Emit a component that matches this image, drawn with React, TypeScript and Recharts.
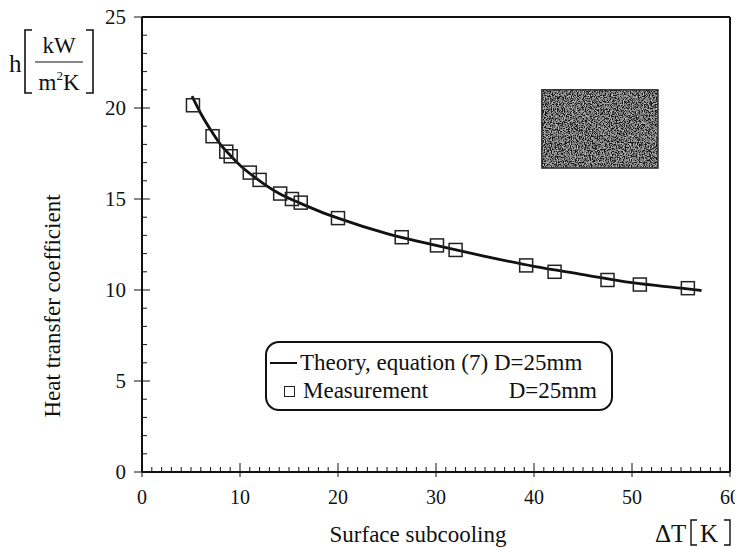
import {
  ComposedChart,
  Line,
  ReferenceArea,
  ReferenceLine,
  Scatter,
  XAxis,
  YAxis,
} from "recharts";

// measured points, D=25mm
const measuredDT = [5.2, 7.2, 8.6, 9.05, 11.0, 12.0, 14.1, 15.3, 16.2, 20.0, 26.5, 30.1, 32.0, 39.2, 42.1, 47.5, 50.8, 55.7];
const measuredH = [20.15, 18.45, 17.6, 17.35, 16.45, 16.05, 15.3, 15.0, 14.8, 13.95, 12.9, 12.45, 12.2, 11.35, 11.0, 10.55, 10.3, 10.1];

// theory curve, equation (7)
const theoryDT = [5.1, 6, 7, 8, 9, 10, 12, 14, 16, 18, 20, 25, 30, 35, 40, 45, 50, 55, 57.1];
const theoryH = [20.65, 19.7, 18.8, 18.0, 17.4, 16.85, 16.0, 15.3, 14.8, 14.35, 13.95, 13.1, 12.45, 11.85, 11.3, 10.85, 10.4, 10.1, 9.97];

const xTicks = Array.from({ length: 61 }, (_, i) => i);
const yTicks = Array.from({ length: 26 }, (_, i) => i);

const measured = measuredDT.map((dt, i) => ({ dt, h: measuredH[i] }));
const theory = theoryDT.map((dt, i) => ({ dt, h: theoryH[i] }));

const serif = "Liberation Serif";
const ink = "#111";

function XTick({ x, y, payload }: any) {
  const major = payload.value % 10 === 0;
  return (
    <g>
      <line x1={x} x2={x} y1={major ? y - 9 : y - 5} y2={major ? y + 5 : y} stroke={ink} strokeWidth={1} />
      {major && (
        <text x={x} y={y + 32} textAnchor="middle" fontFamily={serif} fontSize={20} fill={ink}>
          {payload.value}
        </text>
      )}
    </g>
  );
}

function YTick({ x, y, payload }: any) {
  const major = payload.value % 5 === 0;
  return (
    <g>
      <line x1={major ? x - 8 : x} x2={major ? x + 8 : x + 5} y1={y} y2={y} stroke={ink} strokeWidth={1} />
      {major && (
        <text x={x - 16} y={y + 7} textAnchor="end" fontFamily={serif} fontSize={21} fill={ink}>
          {payload.value}
        </text>
      )}
    </g>
  );
}

function SquareDot({ cx, cy }: any) {
  return <rect x={cx - 6.5} y={cy - 6.5} width={13} height={13} fill="none" stroke="#222" strokeWidth={1.5} />;
}

function GrainBox(props: any) {
  const { x, y, width, height } = props;
  return (
    <g>
      <rect x={x} y={y} width={width} height={height} fill="#5a5a5a" />
      <rect x={x} y={y} width={width} height={height} filter="url(#grain)" opacity={0.75} />
      <rect x={x} y={y} width={width} height={height} fill="none" stroke="#333" strokeWidth={1.5} />
    </g>
  );
}

function LegendBox() {
  return (
    <div
      style={{
        position: "absolute",
        left: 257,
        top: 333,
        width: 348,
        height: 70,
        border: "2px solid #111",
        borderRadius: 14,
        fontFamily: serif,
        fontSize: 23,
        color: ink,
        background: "#fff",
        boxSizing: "border-box",
        padding: "6px 14px 0 3px",
        lineHeight: "28px",
      }}
    >
      <div style={{ display: "flex", alignItems: "center" }}>
        <span style={{ display: "inline-block", width: 27, borderTop: "2.5px solid #111", marginRight: 3 }} />
        <span style={{ whiteSpace: "nowrap" }}>Theory, equation (7) D=25mm</span>
      </div>
      <div style={{ display: "flex", alignItems: "center" }}>
        <span
          style={{ display: "inline-block", width: 9, height: 9, border: "1.5px solid #222", marginLeft: 14, marginRight: 8 }}
        />
        <span style={{ flex: 1 }}>Measurement</span>
        <span>D=25mm</span>
      </div>
    </div>
  );
}

export default function App() {
  return (
    <div style={{ position: "relative", width: 735, height: 540 }}>
      <div style={{ position: "absolute", left: 0, top: -8 }}>
        <ComposedChart width={735} height={548} margin={{ top: 17, right: 13, bottom: 46, left: 74 }}>
          <defs>
            <filter id="grain" x="0" y="0" width="100%" height="100%">
              <feTurbulence type="fractalNoise" baseFrequency="0.85" numOctaves={2} seed={4} />
              <feColorMatrix
                type="matrix"
                values="2.4 0 0 0 -1.0  2.4 0 0 0 -1.0  2.4 0 0 0 -1.0  0 0 0 0 1"
              />
              <feComposite in2="SourceGraphic" operator="in" />
            </filter>
          </defs>
          <XAxis
            dataKey="dt"
            type="number"
            domain={[0, 60]}
            ticks={xTicks}
            interval={0}
            height={30}
            axisLine={{ stroke: ink, strokeWidth: 2 }}
            tickLine={false}
            tickSize={0}
            tickMargin={0}
            tick={<XTick />}
            allowDataOverflow
          />
          <YAxis
            dataKey="h"
            type="number"
            domain={[0, 25]}
            ticks={yTicks}
            interval={0}
            width={60}
            axisLine={{ stroke: ink, strokeWidth: 2 }}
            tickLine={false}
            tickSize={0}
            tickMargin={0}
            tick={<YTick />}
            allowDataOverflow
          />
          <ReferenceLine y={25} stroke={ink} strokeWidth={2} />
          <ReferenceLine x={60} stroke={ink} strokeWidth={2} />
          <ReferenceArea x1={40.8} x2={52.65} y1={16.7} y2={21} shape={<GrainBox />} />
          <Line
            data={theory}
            dataKey="h"
            type="monotone"
            stroke="#111"
            strokeWidth={2.8}
            dot={false}
            isAnimationActive={false}
          />
          <Scatter data={measured} dataKey="h" shape={<SquareDot />} isAnimationActive={false} />
        </ComposedChart>
      </div>
      <LegendBox />
      <svg
        width={735}
        height={540}
        style={{ position: "absolute", left: 0, top: 0, pointerEvents: "none" }}
        fontFamily={serif}
        fill={ink}
      >
        <text x={44} y={298} fontSize={23} textAnchor="middle" transform="rotate(-90 44 298)" dominantBaseline="central">
          Heat transfer coefficient
        </text>
        <text x={1} y={64} fontSize={25}>h</text>
        <path d="M24 22 L17 22 L17 85 L24 85" fill="none" stroke={ink} strokeWidth={1.6} />
        <text x={51} y={45} fontSize={23} textAnchor="middle">kW</text>
        <line x1={27} x2={75} y1={54} y2={54} stroke={ink} strokeWidth={1.2} />
        <text x={51} y={82} fontSize={23} textAnchor="middle">
          m<tspan fontSize={13} dy={-10}>2</tspan>
          <tspan dy={10}>K</tspan>
        </text>
        <path d="M78 22 L85 22 L85 85 L78 85" fill="none" stroke={ink} strokeWidth={1.6} />
        <text x={410} y={534} fontSize={23} textAnchor="middle">Surface subcooling</text>
        <text x={647} y={534} fontSize={25}>ΔT</text>
        <path d="M689 512 L683 512 L683 537 L689 537" fill="none" stroke={ink} strokeWidth={1.4} />
        <text x={692} y={534} fontSize={25}>K</text>
        <path d="M716 512 L722 512 L722 537 L716 537" fill="none" stroke={ink} strokeWidth={1.4} />
      </svg>
    </div>
  );
}
